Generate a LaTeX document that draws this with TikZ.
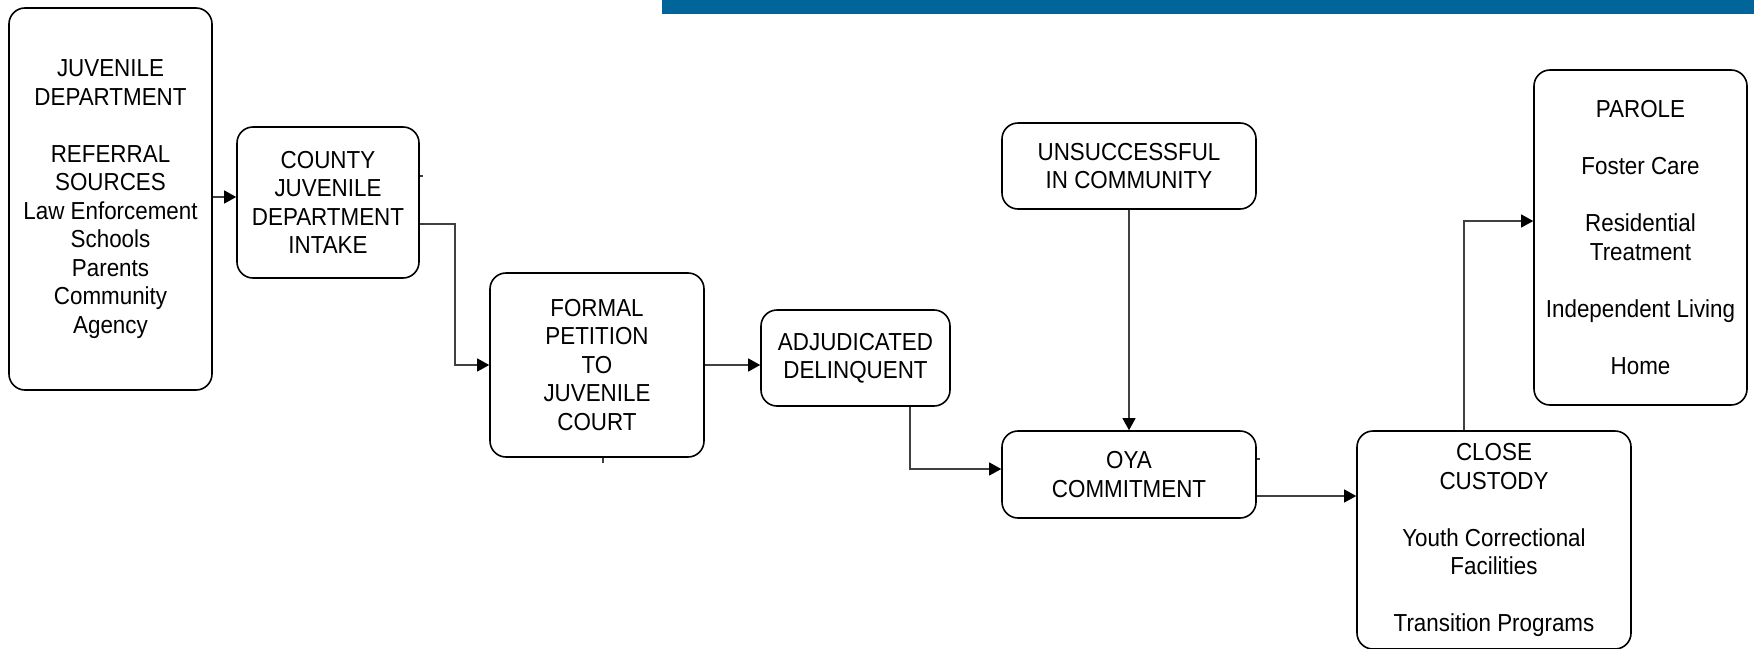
\documentclass[tikz,border=0pt]{standalone}
\usepackage{fontspec}
\setmainfont{Liberation Sans}[FakeStretch=0.91]
\usetikzlibrary{arrows.meta}
\definecolor{barblue}{RGB}{0,102,153}
\begin{document}
\begin{tikzpicture}[x=0.5pt,y=-0.5pt,
  box/.style={draw=black, line width=0.8pt, rounded corners=8pt, align=center, inner sep=0pt,
    font=\fontsize{12.3}{14.25}\selectfont},
  conn/.style={draw=black!75, line width=0.55pt, -{Triangle[length=6pt,width=6.5pt,color=black]}},
  stub/.style={draw=black!75, line width=0.55pt}]
\useasboundingbox (0,0) rectangle (1754,648);
\fill[barblue] (662,0) rectangle (1754,14);

\node[box, minimum width=101.5pt, minimum height=191pt] (juv) at (110.5,199)
  {JUVENILE\\DEPARTMENT\\[14.25pt]REFERRAL\\SOURCES\\Law Enforcement\\Schools\\Parents\\Community\\Agency};
\node[box, minimum width=91pt, minimum height=75.5pt] (county) at (328,202.5)
  {COUNTY\\JUVENILE\\DEPARTMENT\\INTAKE};
\node[box, minimum width=107pt, minimum height=92pt] (formal) at (597,365)
  {FORMAL\\PETITION\\TO\\JUVENILE\\COURT};
\node[box, minimum width=94.5pt, minimum height=48pt] (adj) at (855.5,358)
  {ADJUDICATED\\DELINQUENT};
\node[box, minimum width=127pt, minimum height=43pt] (unsucc) at (1129,166)
  {UNSUCCESSFUL\\IN COMMUNITY};
\node[box, minimum width=127pt, minimum height=43.5pt] (oya) at (1129,474.5)
  {OYA\\COMMITMENT};
\node[box, minimum width=137pt, minimum height=109pt] (close) at (1494,540)
  {CLOSE\\CUSTODY\\[14.25pt]Youth Correctional\\Facilities\\[14.25pt]Transition Programs};
\node[box, minimum width=106.5pt, minimum height=167.5pt] (parole) at (1640.5,237.5)
  {PAROLE\\[14.25pt]Foster Care\\[14.25pt]Residential\\Treatment\\[14.25pt]Independent Living\\[14.25pt]Home};

\coordinate (c1) at (0,197);
\coordinate (c2) at (455,224);
\coordinate (c3) at (910,469);
\coordinate (c4) at (0,496);
\coordinate (c5) at (1464,221);
\coordinate (s1) at (0,176);
\coordinate (s2) at (603,0);
\coordinate (s3) at (0,459);

\draw[conn] (juv.east |- c1) -- (county.west |- c1);
\draw[conn] (county.east |- c2) -- (c2) |- (formal.west);
\draw[conn] (formal.east) -- (formal.east -| adj.west);
\draw[conn] (adj.south -| c3) |- (oya.west |- c3);
\draw[conn] (unsucc.south) -- (oya.north);
\draw[conn] (oya.east |- c4) -- (close.west |- c4);
\draw[conn] (close.north -| c5) |- (parole.west |- c5);

\draw[stub] (county.east |- s1) -- ++(3,0);
\draw[stub] (formal.south -| s2) -- ++(0,5);
\draw[stub] (oya.east |- s3) -- ++(3,0);
\end{tikzpicture}
\end{document}
